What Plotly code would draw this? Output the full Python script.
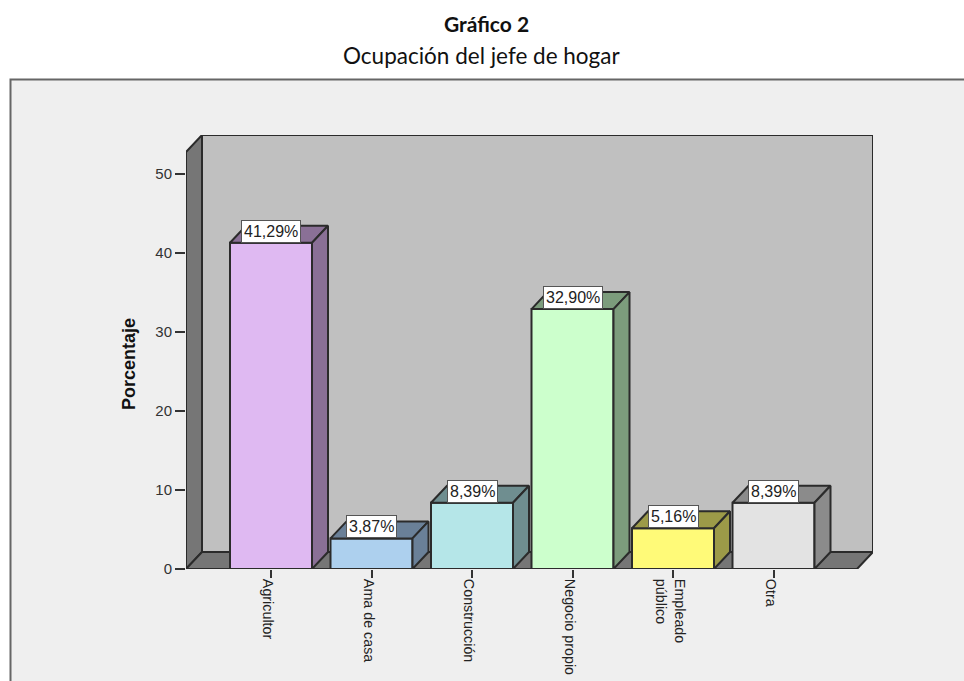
import plotly.graph_objects as go

categories = ["Agricultor", "Ama de casa", "Construcción", "Negocio propio", "Empleado<br>público", "Otra"]
percent = [41.29, 3.87, 8.39, 32.90, 5.16, 8.39]
front_colors = ["#DFB9F2", "#ADD0EE", "#B5E6E8", "#CCFFCC", "#FFFA78", "#E3E3E3"]
side_colors = ["#8A7096", "#6A8098", "#6F8E90", "#7C9C7C", "#9C9A48", "#8B8B8B"]
y_ticks = [0, 10, 20, 30, 40, 50]

W, H = 964, 681
# pixel layout of the plot box
left_px, right_px, top_px, bottom_px = 186, 873, 135, 569
x0_px, x_step_px = 271, 100.5
y_step_px = 7.9
depth_x_px, depth_y_px = 16, 17

bar_w = 82 / x_step_px
dx = depth_x_px / x_step_px
dy = depth_y_px / y_step_px
x_min = (left_px - x0_px) / x_step_px
x_max = (right_px - x0_px) / x_step_px
y_max = (bottom_px - top_px) / y_step_px
x_front_end = x_max - dx
edge = "#2b2b2b"


def polygon(xs, ys, color):
    path = "M " + " L ".join(f"{x},{y}" for x, y in zip(xs, ys)) + " Z"
    return dict(type="path", path=path, xref="x", yref="y", fillcolor=color,
                line=dict(color=edge, width=2), layer="below")


xs = list(range(len(categories)))

fig = go.Figure()

# front of the bars
fig.add_trace(go.Bar(x=xs, y=percent, width=bar_w, marker=dict(color=front_colors, line=dict(color=edge, width=2)),
                     hoverinfo="skip"))

# top and side of the bars
for i, v in enumerate(percent):
    l = i - bar_w / 2
    r = i + bar_w / 2
    fig.add_trace(go.Scatter(x=[l, l + dx, r + dx, r, l], y=[v, v + dy, v + dy, v, v], mode="lines", fill="toself",
                             fillcolor=side_colors[i], line=dict(color=edge, width=2), hoverinfo="skip"))
    fig.add_trace(go.Scatter(x=[r, r + dx, r + dx, r, r], y=[0, dy, v + dy, v, 0], mode="lines", fill="toself",
                             fillcolor=side_colors[i], line=dict(color=edge, width=2), hoverinfo="skip"))

shapes = [
    # grey panel of the chart
    dict(type="rect", xref="paper", yref="paper", x0=10.5 / W, x1=1.02, y0=-0.02, y1=1 - 79.5 / H,
         fillcolor="#EFEFEF", line=dict(color="#666666", width=2), layer="below"),
    # back wall, left wall, floor
    polygon([x_min + dx, x_max, x_max, x_min + dx], [dy, dy, y_max, y_max], "#C0C0C0"),
    polygon([x_min, x_min + dx, x_min + dx, x_min], [0, dy, y_max, y_max - dy], "#767676"),
    polygon([x_min, x_min + dx, x_max, x_front_end], [0, dy, dy, 0], "#767676"),
]

# value labels
annotations = []
for i, v in enumerate(percent):
    annotations.append(dict(x=i, y=v, xref="x", yref="y", text=f"{v:.2f}%".replace(".", ","), showarrow=False,
                            xanchor="center", yanchor="bottom", font=dict(family="Liberation Sans", size=16, color="#222222"),
                            bgcolor="#FFFFFF", bordercolor="#555555", borderwidth=1, borderpad=2))

# headings above the panel
annotations.append(dict(x=486 / W, y=1 - 23 / H, xref="paper", yref="paper", text="<b>Gráfico 2</b>", showarrow=False,
                        yanchor="middle", font=dict(family="Lato", size=21, color="#111111")))
annotations.append(dict(x=481.5 / W, y=1 - 56 / H, xref="paper", yref="paper", text="Ocupación del jefe de hogar", showarrow=False,
                        yanchor="middle", font=dict(family="Lato", size=22.5, color="#111111")))
# y axis title
annotations.append(dict(x=129 / W, y=1 - 364 / H, xref="paper", yref="paper", text="<b>Porcentaje</b>", showarrow=False,
                        textangle=-90, xanchor="center", yanchor="middle",
                        font=dict(family="Liberation Sans", size=18, color="#111111")))

fig.update_layout(
    width=W,
    height=H,
    margin=dict(l=0, r=0, t=0, b=0),
    paper_bgcolor="#FFFFFF",
    plot_bgcolor="rgba(0,0,0,0)",
    showlegend=False,
    shapes=shapes,
    annotations=annotations,
    xaxis=dict(domain=[left_px / W, right_px / W], range=[x_min, x_max], tickmode="array", tickvals=xs, ticktext=categories,
               tickangle=90, ticks="outside", ticklen=8, tickwidth=1.5, tickcolor="#333333", showgrid=False, zeroline=False,
               showline=False, automargin=False, ticklabelstandoff=-2, ticklabelshift=-3,
               tickfont=dict(family="Liberation Sans", size=14.3, color="#222222")),
    yaxis=dict(domain=[1 - bottom_px / H, 1 - top_px / H], range=[0, y_max], tickmode="array", tickvals=y_ticks,
               ticks="outside", ticklen=10, tickwidth=1.5, tickcolor="#333333", showgrid=False, zeroline=False,
               showline=False, automargin=False, tickfont=dict(family="Liberation Sans", size=15, color="#333333")),
)

fig.write_html("out.html", config=dict(displayModeBar=False),
               post_script="document.body.style.margin='0';document.body.style.overflow='hidden';")
